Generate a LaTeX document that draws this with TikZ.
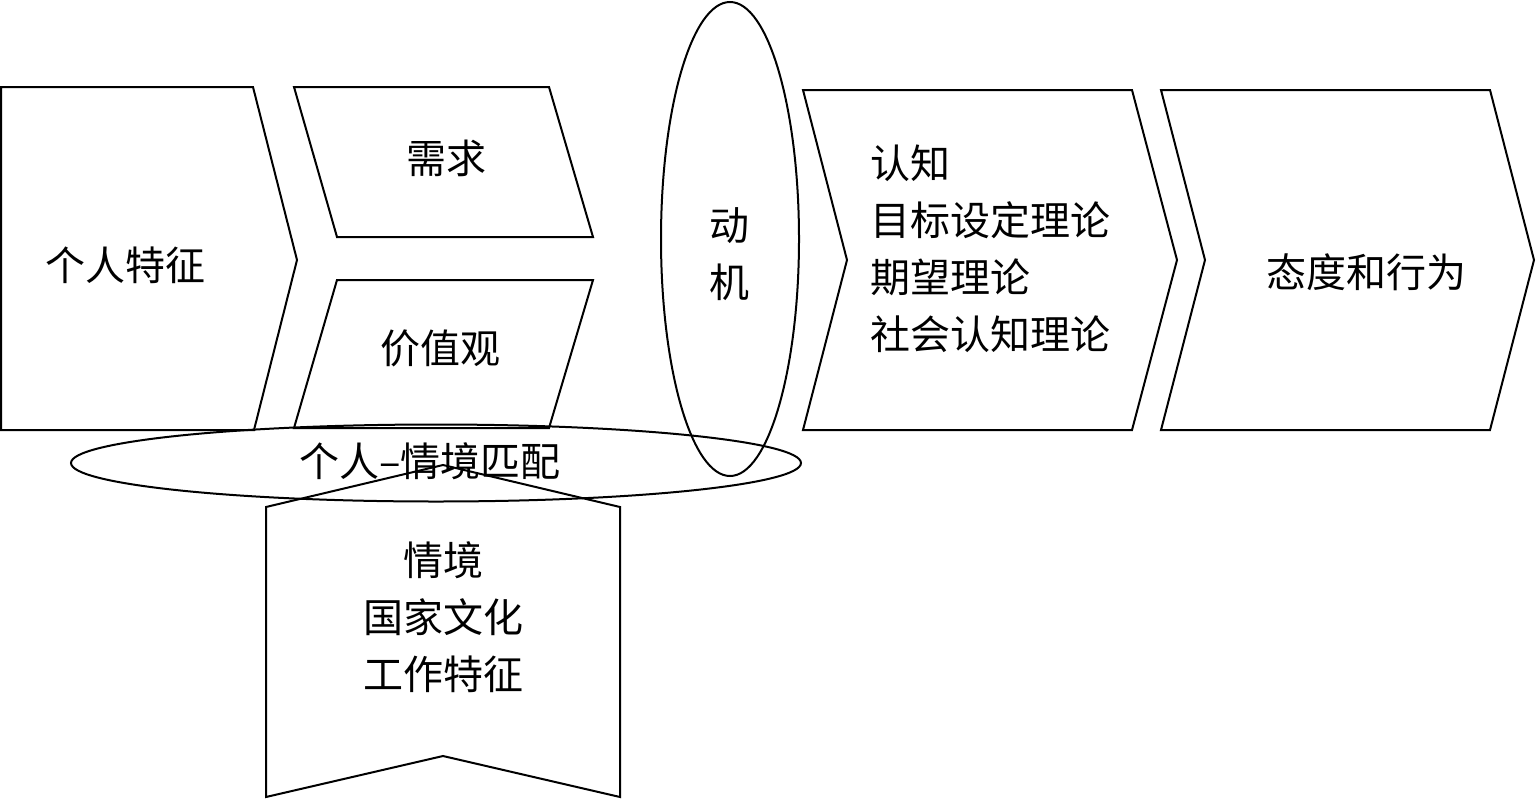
\documentclass[tikz,border=0pt]{standalone}
\usepackage{fontspec}
\newfontfamily\cjk{Noto Sans CJK SC}
\usetikzlibrary{shapes.geometric}
\begin{document}
\begin{tikzpicture}[x=0.5pt,y=-0.5pt,line width=1pt,
  txt/.style={font=\cjk\fontsize{20pt}{28.5pt}\selectfont, inner sep=0pt},
  shp/.style={draw, line join=miter},
  oval/.style={draw, ellipse, inner sep=0pt}]
\useasboundingbox (0,0) rectangle (1536,798);
% personal characteristics
\draw[shp] (1,87) -- (253,87) -- (297,260) -- (254,430) -- (1,430) -- cycle;
\node[txt] (personal) at (125,265) {个人特征};
% needs
\draw[shp] (294,87) -- (549,87) -- (593,237) -- (337,237) -- cycle;
\node[txt] (needs) at (446,158) {需求};
% values
\draw[shp] (337,280) -- (593,280) -- (549,428) -- (294,428) -- cycle;
\node[txt] (values) at (440,348) {价值观};
% motivation ellipse
\node[oval, minimum width=69pt, minimum height=237pt] (motive) at (730,239) {};
\node[txt, align=center] (motivetxt) at (729,254) {动\\机};
% cognition chevron
\draw[shp] (803,90) -- (1132,90) -- (1177,260) -- (1132,430) -- (803,430) -- (847,260) -- cycle;
\node[txt, align=left, anchor=west] (cognition) at (869,249) {认知\\目标设定理论\\期望理论\\社会认知理论};
% attitude chevron
\draw[shp] (1161,90) -- (1490,90) -- (1534,260) -- (1490,430) -- (1161,430) -- (1205,260) -- cycle;
\node[txt] (attitude) at (1366,272) {态度和行为};
% person-situation fit
\node[oval, minimum width=365pt, minimum height=38.5pt] (fit) at (436,463) {};
\node[txt] (fittxt) at (430,461) {个人–情境匹配};
% situation
\draw[shp] (266,507) -- (443,465) -- (620,507) -- (620,797) -- (443,756) -- (266,797) -- cycle;
\node[txt, align=center] (situation) at (443,617) {情境\\国家文化\\工作特征};
\end{tikzpicture}
\end{document}
